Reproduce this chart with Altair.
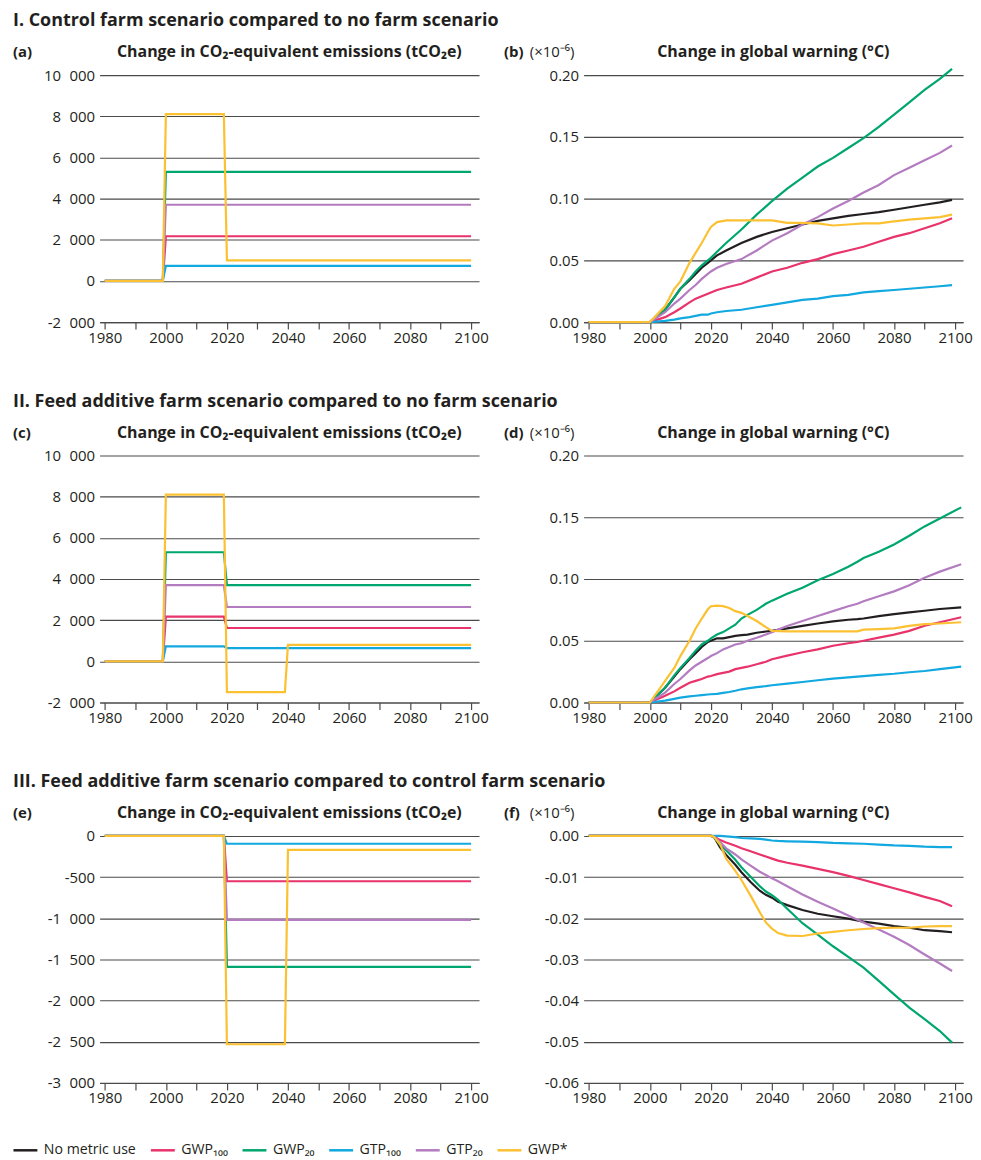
import altair as alt
import pandas as pd

FONT = "Open Sans"
INK = "#231f20"
GRID = "#4a4a4a"

SERIES = ["No metric use", "GWP₁₀₀", "GWP₂₀", "GTP₁₀₀", "GTP₂₀", "GWP*"]
COLORS = ["#231f20", "#e8336b", "#00a66f", "#12a8e0", "#b47cc0", "#fbc132"]

# ---------- emissions (tCO2e), breakpoints of step series ----------
E_YEARS = [1980, 1999, 2000, 2019, 2020, 2039, 2040, 2100]
A_GWP100 = [0, 0, 2170, 2170, 2170, 2170, 2170, 2170]
A_GWP20 = [0, 0, 5300, 5300, 5300, 5300, 5300, 5300]
A_GTP100 = [0, 0, 730, 730, 730, 730, 730, 730]
A_GTP20 = [0, 0, 3700, 3700, 3700, 3700, 3700, 3700]
A_GWPS = [0, 0, 8100, 8100, 1000, 1000, 1000, 1000]

C_GWP100 = [0, 0, 2170, 2170, 1620, 1620, 1620, 1620]
C_GWP20 = [0, 0, 5300, 5300, 3700, 3700, 3700, 3700]
C_GTP100 = [0, 0, 730, 730, 640, 640, 640, 640]
C_GTP20 = [0, 0, 3700, 3700, 2640, 2640, 2640, 2640]
C_GWPS = [0, 0, 8100, 8100, -1500, -1500, 800, 800]

E_GWP100 = [0, 0, 0, 0, -550, -550, -550, -550]
E_GWP20 = [0, 0, 0, 0, -1590, -1590, -1590, -1590]
E_GTP100 = [0, 0, 0, 0, -95, -95, -95, -95]
E_GTP20 = [0, 0, 0, 0, -1020, -1020, -1020, -1020]
E_GWPS = [0, 0, 0, 0, -2530, -2530, -170, -170]

# ---------- warming (x10^-6 degC) ----------
B_YEARS = [1980, 2000, 2005, 2008, 2010, 2013, 2015, 2017, 2019, 2020, 2022, 2025, 2030,
           2035, 2040, 2045, 2050, 2055, 2060, 2065, 2070, 2075, 2080, 2085, 2090, 2095, 2099]
B_NONE = [0, 0, 0.010, 0.020, 0.027, 0.034, 0.039, 0.044, 0.048, 0.050, 0.054, 0.058, 0.064,
          0.069, 0.073, 0.076, 0.079, 0.082, 0.084, 0.086, 0.0875, 0.089, 0.091, 0.093, 0.095, 0.097, 0.099]
B_GWP100 = [0, 0, 0.004, 0.008, 0.011, 0.016, 0.019, 0.021, 0.023, 0.024, 0.026, 0.028, 0.031,
            0.036, 0.041, 0.044, 0.048, 0.051, 0.055, 0.058, 0.061, 0.065, 0.069, 0.072, 0.076, 0.080, 0.084]
B_GWP20 = [0, 0, 0.010, 0.020, 0.027, 0.035, 0.041, 0.046, 0.050, 0.052, 0.057, 0.064, 0.075,
           0.087, 0.098, 0.108, 0.117, 0.126, 0.133, 0.141, 0.149, 0.158, 0.168, 0.178, 0.188, 0.197, 0.205]
B_GTP100 = [0, 0, 0.001, 0.002, 0.003, 0.004, 0.005, 0.006, 0.006, 0.007, 0.008, 0.009, 0.010,
            0.012, 0.014, 0.016, 0.018, 0.019, 0.021, 0.022, 0.024, 0.025, 0.026, 0.027, 0.028, 0.029, 0.030]
B_GTP20 = [0, 0, 0.008, 0.015, 0.019, 0.026, 0.030, 0.035, 0.039, 0.041, 0.044, 0.047, 0.051,
           0.058, 0.066, 0.072, 0.079, 0.085, 0.092, 0.098, 0.105, 0.111, 0.119, 0.125, 0.131, 0.137, 0.143]
B_GWPS = [0, 0, 0.013, 0.027, 0.033, 0.048, 0.056, 0.064, 0.073, 0.077, 0.081, 0.0823, 0.0823,
          0.0823, 0.0823, 0.0804, 0.0804, 0.080, 0.0782, 0.079, 0.080, 0.080, 0.0815, 0.083, 0.084, 0.085, 0.087]

D_YEARS = [1980, 2000, 2005, 2008, 2010, 2013, 2015, 2017, 2019, 2020, 2022, 2024, 2026, 2028, 2030,
           2032, 2035, 2038, 2040, 2045, 2050, 2055, 2060, 2065, 2068, 2070, 2075, 2080, 2085, 2090, 2095, 2102]
D_NONE = [0, 0, 0.012, 0.021, 0.027, 0.035, 0.040, 0.045, 0.049, 0.050, 0.052, 0.052, 0.053, 0.054, 0.0545,
          0.055, 0.0565, 0.0575, 0.058, 0.060, 0.062, 0.064, 0.0657, 0.067, 0.0675, 0.068, 0.070, 0.0716, 0.073,
          0.0743, 0.0757, 0.077]
D_GWP100 = [0, 0, 0.0054, 0.009, 0.012, 0.016, 0.0175, 0.019, 0.021, 0.0215, 0.023, 0.024, 0.025, 0.027, 0.028,
            0.029, 0.031, 0.033, 0.035, 0.038, 0.0407, 0.043, 0.046, 0.048, 0.049, 0.050, 0.0525, 0.055, 0.058,
            0.0622, 0.065, 0.069]
D_GWP20 = [0, 0, 0.012, 0.022, 0.028, 0.036, 0.042, 0.047, 0.050, 0.052, 0.055, 0.057, 0.060, 0.063, 0.068,
           0.071, 0.075, 0.080, 0.0825, 0.088, 0.093, 0.099, 0.104, 0.110, 0.114, 0.117, 0.122, 0.128, 0.135,
           0.1426, 0.149, 0.158]
D_GTP100 = [0, 0, 0.0015, 0.003, 0.004, 0.005, 0.0055, 0.006, 0.0065, 0.0067, 0.007, 0.0078, 0.0085, 0.0095,
            0.0107, 0.0115, 0.0125, 0.0133, 0.014, 0.0153, 0.0166, 0.018, 0.0193, 0.0204, 0.021, 0.0214, 0.0224,
            0.0233, 0.0245, 0.0255, 0.027, 0.029]
D_GTP20 = [0, 0, 0.008, 0.015, 0.019, 0.026, 0.030, 0.033, 0.036, 0.0376, 0.040, 0.043, 0.045, 0.047, 0.048,
           0.050, 0.0524, 0.055, 0.057, 0.062, 0.066, 0.070, 0.074, 0.078, 0.080, 0.082, 0.086, 0.090, 0.095,
           0.101, 0.106, 0.112]
D_GWPS = [0, 0, 0.0175, 0.028, 0.0376, 0.050, 0.060, 0.068, 0.0755, 0.078, 0.0785, 0.078, 0.0766, 0.074, 0.0726,
          0.070, 0.066, 0.061, 0.058, 0.0576, 0.0576, 0.0576, 0.0576, 0.0576, 0.0576, 0.059, 0.0595, 0.060, 0.062,
          0.0635, 0.064, 0.065]

F_YEARS = [1980, 2020, 2021, 2023, 2025, 2028, 2030, 2033, 2036, 2038, 2040, 2042, 2045, 2050, 2055, 2060,
           2065, 2070, 2075, 2080, 2085, 2090, 2095, 2099]
F_NONE = [0, 0, -0.0002, -0.0028, -0.0046, -0.007, -0.0088, -0.0112, -0.0133, -0.0143, -0.015, -0.016,
          -0.0168, -0.018, -0.0189, -0.0195, -0.0201, -0.0208, -0.0213, -0.0219, -0.0223, -0.0229, -0.0231, -0.0234]
F_GWP100 = [0, 0, -0.0001, -0.001, -0.0016, -0.0024, -0.003, -0.0037, -0.0045, -0.005, -0.0055, -0.006,
            -0.0065, -0.0072, -0.008, -0.0088, -0.0097, -0.0107, -0.0117, -0.0127, -0.0137, -0.0148, -0.0158, -0.0171]
F_GWP20 = [0, 0, -0.0002, -0.0022, -0.0035, -0.0058, -0.0076, -0.0099, -0.0122, -0.0135, -0.0144, -0.0155,
           -0.0177, -0.0212, -0.024, -0.0268, -0.0294, -0.032, -0.0352, -0.0385, -0.0417, -0.0445, -0.0474, -0.0502]
F_GTP100 = [0, 0, 0, 0, -0.0001, -0.0003, -0.0005, -0.0006, -0.0007, -0.0009, -0.0011, -0.0012,
            -0.0013, -0.0014, -0.0015, -0.0017, -0.0018, -0.0019, -0.0021, -0.0023, -0.0024, -0.0026, -0.0027, -0.0027]
F_GTP20 = [0, 0, -0.0002, -0.0015, -0.003, -0.0045, -0.0057, -0.0072, -0.0087, -0.0095, -0.0103, -0.011,
           -0.0122, -0.0142, -0.016, -0.0176, -0.0193, -0.021, -0.0227, -0.0245, -0.0265, -0.0288, -0.031, -0.0328]
F_GWPS = [0, 0, -0.0002, -0.002, -0.0055, -0.0085, -0.0107, -0.0145, -0.0185, -0.021, -0.0225, -0.0236,
          -0.0242, -0.0243, -0.0237, -0.0233, -0.0229, -0.0226, -0.0224, -0.0223, -0.0223, -0.0220, -0.0219, -0.0219]

SECTIONS = ["I. Control farm scenario compared to no farm scenario",
            "II. Feed additive farm scenario compared to no farm scenario",
            "III. Feed additive farm scenario compared to control farm scenario"]
EMI_TITLE = "Change in CO₂-equivalent emissions (tCO₂e)"
WARM_TITLE = "Change in global warning (°C)"
UNIT = "(×10⁻⁶)"
X_TICKS = list(range(1980, 2101, 10))

W, H = 381, 248


def make_df(years, series):
    rows = []
    for name, vals in series:
        for yr, v in zip(years, vals):
            rows.append({"year": yr, "value": v, "series": name})
    return pd.DataFrame(rows)


def text_layer(txt, x, y, size, weight, align="left", baseline="middle"):
    return alt.Chart(pd.DataFrame({"t": [txt]})).mark_text(
        font=FONT, fontSize=size, fontWeight=weight, color=INK, align=align, baseline=baseline
    ).encode(text="t:N", x=alt.value(x), y=alt.value(y))


color = alt.Color("series:N", scale=alt.Scale(domain=SERIES, range=COLORS),
                  legend=alt.Legend(orient="none", legendX=-88, legendY=1066, direction="horizontal",
                                    title=None, symbolType="stroke", symbolSize=576, symbolStrokeWidth=2.5,
                                    labelFontSize=14.2, labelFont=FONT, labelColor=INK, labelOffset=5,
                                    columnPadding=9, labelLimit=200))


def panel(df, ydom, yvals, ylabel, letter, title, warming, section=None):
    x = alt.X("year:Q", scale=alt.Scale(domain=[1978.3, 2102.6], nice=False, zero=False),
              axis=alt.Axis(values=X_TICKS, labelExpr="datum.value % 20 == 0 ? '' + datum.value : ''",
                            grid=False, domain=True, ticks=True, tickSize=7, tickColor=GRID, domainColor=GRID,
                            tickWidth=1.2, domainWidth=1.2, labelPadding=1, labelFontSize=15, labelFont=FONT,
                            labelColor=INK, title=None, labelFlush=False))
    y = alt.Y("value:Q", scale=alt.Scale(domain=ydom, nice=False, zero=False),
              axis=alt.Axis(values=yvals, labelExpr=ylabel, grid=True, gridColor=GRID, gridWidth=1.1,
                            domain=False, ticks=False, labelPadding=5, labelFontSize=15, labelFont=FONT,
                            labelColor=INK, title=None))
    lines = alt.Chart(df).mark_line(strokeWidth=2.2).encode(x=x, y=y, color=color)
    layers = [lines]
    if warming:
        layers.append(text_layer(letter, -80, -23, 15, "bold"))
        layers.append(text_layer(UNIT, -54, -23, 15, "normal"))
    else:
        layers.append(text_layer(letter, -87, -23, 15, "bold"))
    layers.append(text_layer(title, W / 2, -23, 16, "bold", align="center"))
    if section:
        layers.append(text_layer(section, -87, -63, 18, "bold", baseline="top"))
    return alt.layer(*layers).properties(width=W, height=H)


EMI_LABEL = "(datum.value < 0 ? '-' : '') + replace(format(abs(datum.value), ','), ',', '\u2007')"
WARM_LABEL = "(datum.value < 0 ? '-' : '') + format(abs(datum.value), '.2f')"

df_a = make_df(E_YEARS, [(SERIES[1], A_GWP100), (SERIES[2], A_GWP20), (SERIES[3], A_GTP100),
                         (SERIES[4], A_GTP20), (SERIES[5], A_GWPS)])
df_c = make_df(E_YEARS, [(SERIES[1], C_GWP100), (SERIES[2], C_GWP20), (SERIES[3], C_GTP100),
                         (SERIES[4], C_GTP20), (SERIES[5], C_GWPS)])
df_e = make_df(E_YEARS, [(SERIES[1], E_GWP100), (SERIES[2], E_GWP20), (SERIES[3], E_GTP100),
                         (SERIES[4], E_GTP20), (SERIES[5], E_GWPS)])
df_b = make_df(B_YEARS, [(SERIES[0], B_NONE), (SERIES[1], B_GWP100), (SERIES[2], B_GWP20),
                         (SERIES[3], B_GTP100), (SERIES[4], B_GTP20), (SERIES[5], B_GWPS)])
df_d = make_df(D_YEARS, [(SERIES[0], D_NONE), (SERIES[1], D_GWP100), (SERIES[2], D_GWP20),
                         (SERIES[3], D_GTP100), (SERIES[4], D_GTP20), (SERIES[5], D_GWPS)])
df_f = make_df(F_YEARS, [(SERIES[0], F_NONE), (SERIES[1], F_GWP100), (SERIES[2], F_GWP20),
                         (SERIES[3], F_GTP100), (SERIES[4], F_GTP20), (SERIES[5], F_GWPS)])

EMI_TICKS_1 = [-2000, 0, 2000, 4000, 6000, 8000, 10000]
EMI_TICKS_3 = [-3000, -2500, -2000, -1500, -1000, -500, 0]
WARM_TICKS_1 = [0, 0.05, 0.10, 0.15, 0.20]
WARM_TICKS_3 = [-0.06, -0.05, -0.04, -0.03, -0.02, -0.01, 0]

pa = panel(df_a, [-2000, 10000], EMI_TICKS_1, EMI_LABEL, "(a)", EMI_TITLE, False, SECTIONS[0])
pb = panel(df_b, [0, 0.2], WARM_TICKS_1, WARM_LABEL, "(b)", WARM_TITLE, True)
pc = panel(df_c, [-2000, 10000], EMI_TICKS_1, EMI_LABEL, "(c)", EMI_TITLE, False, SECTIONS[1])
pd_ = panel(df_d, [0, 0.2], WARM_TICKS_1, WARM_LABEL, "(d)", WARM_TITLE, True)
pe = panel(df_e, [-3000, 0], EMI_TICKS_3, EMI_LABEL, "(e)", EMI_TITLE, False, SECTIONS[2])
pf = panel(df_f, [-0.06, 0], WARM_TICKS_3, WARM_LABEL, "(f)", WARM_TITLE, True)

PAD = {"left": 4, "top": 2, "right": 0, "bottom": 0}
chart = alt.concat(pa, pb, pc, pd_, pe, pf, columns=2, spacing={"row": 134, "column": 105},
                   bounds="flush").properties(padding=PAD).configure(
    background="white", padding=PAD).configure_view(stroke=None)

chart.save("out.html", embed_options={"renderer": "svg", "actions": False})
